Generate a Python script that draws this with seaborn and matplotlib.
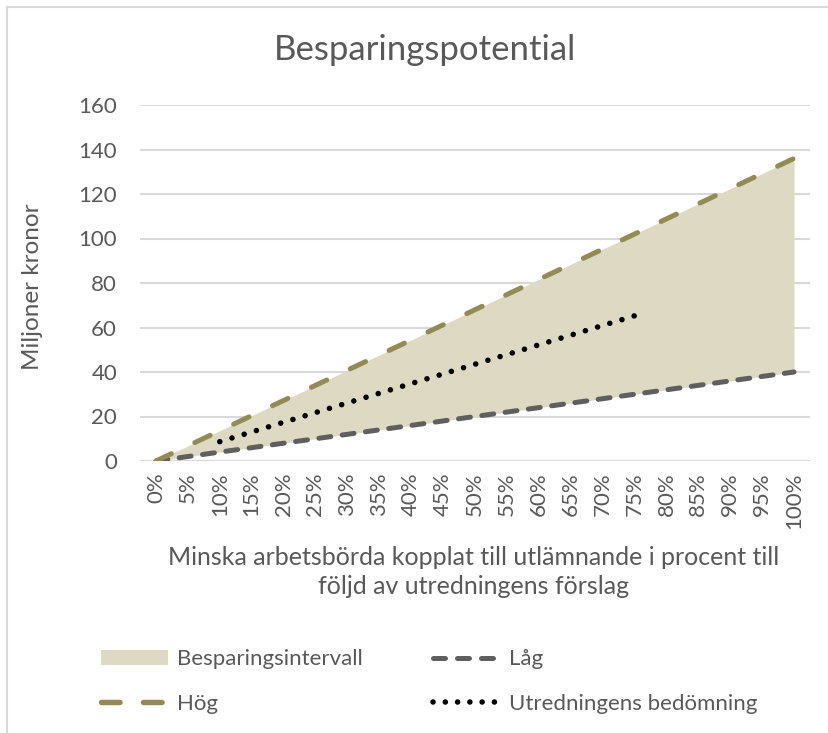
import matplotlib
matplotlib.use("Agg")
import matplotlib.pyplot as plt
import seaborn as sns
import numpy as np
import pandas as pd
from matplotlib.lines import Line2D
from matplotlib.patches import Patch, Rectangle

categories = ["0%", "5%", "10%", "15%", "20%", "25%", "30%", "35%", "40%", "45%", "50%",
              "55%", "60%", "65%", "70%", "75%", "80%", "85%", "90%", "95%", "100%"]
hog = [0, 6.8, 13.6, 20.4, 27.2, 34, 40.8, 47.6, 54.4, 61.2, 68,
       74.8, 81.6, 88.4, 95.2, 102, 108.8, 115.6, 122.4, 129.2, 136]
lag = [0, 2, 4, 6, 8, 10, 12, 14, 16, 18, 20,
       22, 24, 26, 28, 30, 32, 34, 36, 38, 40]
utredning_cats = ["10%", "15%", "20%", "25%", "30%", "35%", "40%", "45%", "50%",
                  "55%", "60%", "65%", "70%", "75%"]
utredning = [8.7, 13.05, 17.4, 21.75, 26.1, 30.45, 34.8, 39.15, 43.5,
             47.85, 52.2, 56.55, 60.9, 65.25]

sns.set_theme(style="white")
plt.rcParams['font.family'] = ['Lato', 'DejaVu Sans']

TXT = "#595959"
FILL = "#DDD9C3"
HOG_C = "#948A54"
LAG_C = "#5F5F5F"

HOG_LW, HOG_D = 3.6, [3.4, 5.2]
LAG_LW, LAG_D = 3.6, [2.4, 2.3]
UTR_LW, UTR_P = 4.0, 2.29

DPI = 100
fig = plt.figure(figsize=(8.29, 7.33), dpi=DPI)
ax = fig.add_axes([140/829, 1-461/733, (810-140)/829, (461-105)/733])

xi = np.arange(len(categories))
df = pd.DataFrame({"x": xi, "Hög": hog, "Låg": lag})
ux = [categories.index(c) for c in utredning_cats]
du = pd.DataFrame({"x": ux, "v": utredning})

ax.fill_between(df["x"], df["Låg"], df["Hög"], color=FILL, lw=0, zorder=1)
sns.lineplot(data=df, x="x", y="Låg", ax=ax, color=LAG_C, lw=LAG_LW, zorder=3)
ax.lines[-1].set_dashes(LAG_D)
ax.lines[-1].set_dash_capstyle("round")
sns.lineplot(data=df, x="x", y="Hög", ax=ax, color=HOG_C, lw=HOG_LW, zorder=3)
ax.lines[-1].set_dashes(HOG_D)
ax.lines[-1].set_dash_capstyle("round")
sns.lineplot(data=du, x="x", y="v", ax=ax, color="black", lw=UTR_LW, zorder=4)
dot_line = ax.lines[-1]
dot_line.set_dash_capstyle("round")

ax.set_xlim(-0.5, len(categories) - 0.5)
ax.set_ylim(0, 160)
ax.set_yticks(range(0, 161, 20))
ax.set_xticks(xi)
ax.set_xticklabels(categories, rotation=90, fontsize=16, color=TXT)
ax.tick_params(axis='y', labelsize=16, labelcolor=TXT, length=0, pad=16.5)
ax.tick_params(axis='x', length=0, pad=8)
ax.grid(axis='y', color="#D9D9D9", lw=1.5)
ax.set_axisbelow(True)
for s in ax.spines.values():
    s.set_visible(False)
ax.set_xlabel("")
ax.set_ylabel("Miljoner kronor", fontsize=17.5, color=TXT)
ax.yaxis.label.set_verticalalignment("center")
ax.yaxis.set_label_coords(33/829, 1-287/733, transform=fig.transFigure)

# make the dotted line end exactly on a dot
pts = ax.transData.transform(np.column_stack([dot_line.get_xdata(), dot_line.get_ydata()]))
length_pt = np.sum(np.hypot(np.diff(pts[:, 0]), np.diff(pts[:, 1]))) * 72 / DPI
n = max(1, int(round(length_pt / (UTR_P * UTR_LW))))
period = length_pt / n / UTR_LW * 0.999
dot_line.set_dashes([0.01, period - 0.01])

fig.text(425/829, 1-50/733, "Besparingspotential", ha="center", va="center",
         fontsize=25, color=TXT)
fig.text(474/829, 1-572/733,
         "Minska arbetsbörda kopplat till utlämnande i procent till\nföljd av utredningens förslag",
         ha="center", va="center", fontsize=18, color=TXT, linespacing=1.35)

# chart border
fig.patches.append(Rectangle((7/829, -0.1), 1.2, 1 - 7/733 + 0.1, transform=fig.transFigure,
                             fill=False, ec="#D9D9D9", lw=1.5))

handles = [Patch(facecolor=FILL, edgecolor="none"),
           Line2D([], [], color=HOG_C, lw=3.9, dashes=[3.43, 4.32], dash_capstyle="round"),
           Line2D([], [], color=LAG_C, lw=3.6, dashes=[2.4, 2.4], dash_capstyle="round"),
           Line2D([], [], color="black", lw=4.0, dashes=[0.01, 2.2], dash_capstyle="round")]
labels = ["Besparingsintervall", "Hög", "Låg", "Utredningens bedömning"]
leg = fig.legend(handles, labels, ncol=2, loc="center left",
                 bbox_to_anchor=(101/829, 1-681.5/733), frameon=False,
                 borderpad=0, borderaxespad=0,
                 fontsize=16, handlelength=3.0, handleheight=0.63,
                 columnspacing=3.2, labelspacing=1.12, handletextpad=0.4)
for t in leg.get_texts():
    t.set_color(TXT)

fig.savefig("out.png", dpi=DPI)
